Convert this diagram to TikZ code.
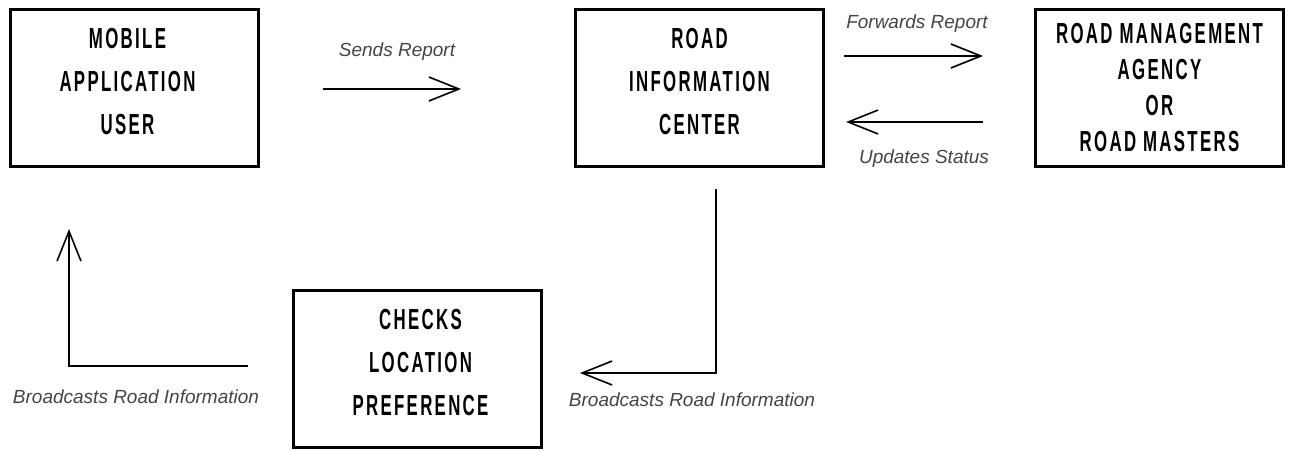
\documentclass[tikz,border=0pt]{standalone}
\usepackage{fontspec}
\usetikzlibrary{arrows.meta}
\newfontfamily\boxfont[FakeStretch=0.58,LetterSpace=8]{Liberation Sans}
\newfontfamily\lblfont{Liberation Sans}
\definecolor{lblgray}{HTML}{444444}
\begin{document}
\begin{tikzpicture}[x=1pt,y=-1pt,
  box/.style={draw=black,line width=3pt,minimum width=248pt,minimum height=157pt,inner sep=0pt},
  boxtext/.style={align=center,inner sep=0pt,yshift=6pt,
    font=\boxfont\bfseries\fontsize{29}{43}\selectfont},
  lbl/.style={font=\lblfont\itshape\fontsize{19}{22}\selectfont,text=lblgray,inner sep=0pt},
  conn/.style={line width=2pt,-{Straight Barb[length=30pt,width=24pt,line width=1.6pt]}}]
\useasboundingbox (0,0) rectangle (1293,450);
\node[box,label={[boxtext,xshift=-7pt]center:MOBILE\\APPLICATION\\USER}] (mob) at (134.5,88) {};
\node[box,label={[boxtext]center:ROAD\\INFORMATION\\CENTER}] (ric) at (699.5,88) {};
\node[box,label={[boxtext,yshift=-6pt,font=\boxfont\bfseries\fontsize{29}{36}\selectfont]center:ROAD MANAGEMENT\\AGENCY\\OR\\ROAD MASTERS}] (ram) at (1159.5,88) {};
\node[box,label={[boxtext,xshift=3pt]center:CHECKS\\LOCATION\\PREFERENCE}] (chk) at (417.5,368.5) {};
% connector end points
\coordinate (s1) at (323,89);
\coordinate (s2) at (461,89);
\coordinate (f1) at (844,56);
\coordinate (f2) at (983,56);
\coordinate (u1) at (983,122);
\coordinate (u2) at (846,122);
\coordinate (b1) at (716,189);
\coordinate (b2) at (716,373);
\coordinate (b3) at (580,373);
\coordinate (c1) at (248,366);
\coordinate (c2) at (69,366);
\coordinate (c3) at (69,229);
\draw[conn] (s1) -- (s2);
\draw[conn] (f1) -- (f2);
\draw[conn] (u1) -- (u2);
\draw[conn] (b1) -- (b2) -- (b3);
\draw[conn] (c1) -- (c2) -- (c3);
\node[lbl] (l1) at (397,52) {Sends Report};
\node[lbl] (l2) at (917,24) {Forwards Report};
\node[lbl] (l3) at (924,159) {Updates Status};
\node[lbl] (l4) at (692,400) {Broadcasts Road Information};
\node[lbl] (l5) at (136,397) {Broadcasts Road Information};
\end{tikzpicture}
\end{document}
